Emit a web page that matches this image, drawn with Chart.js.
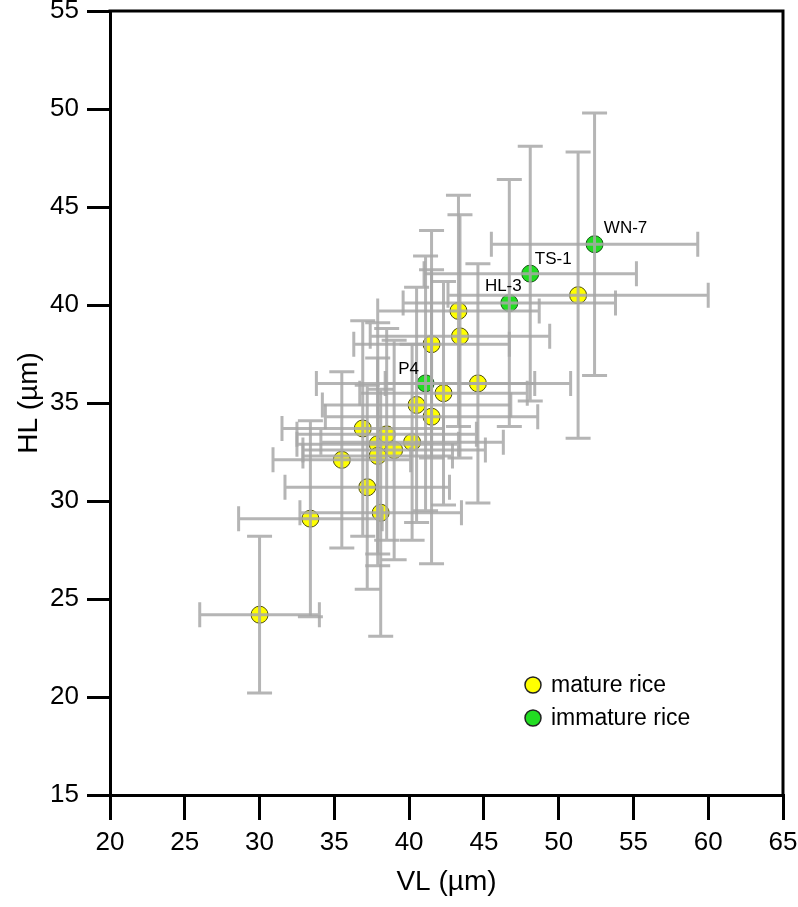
<!DOCTYPE html>
<html>
<head>
<meta charset="utf-8">
<script src="https://cdn.jsdelivr.net/npm/chart.js@4.4.1/dist/chart.umd.min.js"></script>
<style>
  html, body { margin: 0; padding: 0; background: #fff; }
</style>
</head>
<body>
<canvas id="chart" width="798" height="907"></canvas>
<script>
// mature rice: VL / HL means and their standard deviations (µm)
const matureVL    = [30.0, 33.4, 35.5, 36.9, 37.2, 38.1, 37.9, 37.9, 38.5, 39.0, 40.2, 40.5, 41.5, 41.5, 42.3, 43.3, 43.4, 44.6, 51.3];
const matureHL    = [24.2, 29.1, 32.1, 33.7, 30.7, 29.4, 32.9, 32.3, 33.4, 32.6, 33.0, 34.9, 34.3, 38.0, 35.5, 39.7, 38.4, 36.0, 40.5];
const matureVLErr = [4.0, 4.8, 4.6, 5.4, 5.5, 5.4, 5.4, 5.0, 6.0, 6.1, 6.1, 6.3, 7.1, 5.2, 5.6, 5.4, 6.0, 6.2, 8.7];
const matureHLErr = [4.0, 5.0, 4.5, 5.5, 5.2, 6.3, 6.2, 5.0, 5.4, 5.6, 5.0, 6.0, 7.5, 5.8, 5.7, 5.9, 6.2, 6.1, 7.3];

// immature rice, labelled samples
const immatureNames = ['P4', 'HL-3', 'TS-1', 'WN-7'];
const immatureVL    = [41.1, 46.7, 48.1, 52.4];
const immatureHL    = [36.0, 40.1, 41.6, 43.1];
const immatureVLErr = [7.3, 7.1, 7.1, 6.9];
const immatureHLErr = [6.5, 6.3, 6.5, 6.7];

const seriesLabels = ['mature rice', 'immature rice'];
const xRange = [20, 65];
const yRange = [15, 55];
const tickStep = 5;

const FONT = '"Liberation Sans", Arial, sans-serif';
const BAR_COLOR = 'rgba(168,168,168,0.85)';

const toPoints = (xs, ys) => xs.map((x, i) => ({ x, y: ys[i] }));

const errorSets = [
  { dx: matureVLErr,   dy: matureHLErr },
  { dx: immatureVLErr, dy: immatureHLErr },
];

// error bars (±SD on both axes), drawn over the markers like the original
const errorBars = {
  id: 'errorBars',
  afterDatasetsDraw(chart) {
    const { ctx, scales: { x, y } } = chart;
    const cap = 12.5;
    ctx.save();
    ctx.strokeStyle = BAR_COLOR;
    ctx.lineWidth = 3;
    ctx.lineCap = 'butt';
    chart.data.datasets.forEach((ds, di) => {
      const err = errorSets[di];
      ds.data.forEach((p, i) => {
        const x0 = x.getPixelForValue(p.x - err.dx[i]);
        const x1 = x.getPixelForValue(p.x + err.dx[i]);
        const y0 = y.getPixelForValue(p.y - err.dy[i]);
        const y1 = y.getPixelForValue(p.y + err.dy[i]);
        const px = x.getPixelForValue(p.x);
        const py = y.getPixelForValue(p.y);
        ctx.beginPath();
        ctx.moveTo(x0, py); ctx.lineTo(x1, py);
        ctx.moveTo(x0, py - cap); ctx.lineTo(x0, py + cap);
        ctx.moveTo(x1, py - cap); ctx.lineTo(x1, py + cap);
        ctx.moveTo(px, y0); ctx.lineTo(px, y1);
        ctx.moveTo(px - cap, y0); ctx.lineTo(px + cap, y0);
        ctx.moveTo(px - cap, y1); ctx.lineTo(px + cap, y1);
        ctx.stroke();
      });
    });
    ctx.restore();
  },
};

// sample names next to the immature points
const sampleLabels = {
  id: 'sampleLabels',
  afterDatasetsDraw(chart) {
    const { ctx } = chart;
    const meta = chart.getDatasetMeta(1);
    const offsets = [[-17, -14], [-6, -17], [23, -14], [31, -16]];
    ctx.save();
    ctx.font = `17px ${FONT}`;
    ctx.fillStyle = '#000';
    ctx.textAlign = 'center';
    ctx.textBaseline = 'middle';
    meta.data.forEach((pt, i) => {
      ctx.fillText(immatureNames[i], pt.x + offsets[i][0], pt.y + offsets[i][1]);
    });
    ctx.restore();
  },
};

// closed frame + legend inside the plot
const frameAndLegend = {
  id: 'frameAndLegend',
  afterDraw(chart) {
    const { ctx, chartArea: a } = chart;
    ctx.save();
    ctx.strokeStyle = '#000';
    ctx.lineWidth = 3;
    ctx.beginPath();
    ctx.moveTo(a.left - 1.5, a.top);
    ctx.lineTo(a.right, a.top);
    ctx.lineTo(a.right, a.bottom + 1.5);
    ctx.stroke();

    const colors = chart.data.datasets.map((d) => d.backgroundColor);
    const lx = a.right - 250;
    const ly = a.bottom - 110;
    seriesLabels.forEach((label, i) => {
      const cy = ly + i * 33;
      ctx.beginPath();
      ctx.arc(lx, cy, 8, 0, Math.PI * 2);
      ctx.fillStyle = colors[i];
      ctx.fill();
      ctx.lineWidth = 1.5;
      ctx.strokeStyle = '#222';
      ctx.stroke();
      ctx.fillStyle = '#000';
      ctx.font = `23px ${FONT}`;
      ctx.textAlign = 'left';
      ctx.textBaseline = 'middle';
      ctx.fillText(label, lx + 18, cy + 1);
    });
    ctx.restore();
  },
};

const axisBase = (min, max, tickLength, padding) => ({
  type: 'linear',
  min, max,
  ticks: {
    stepSize: tickStep,
    color: '#000',
    font: { family: FONT, size: 26 },
    autoSkip: false,
    maxRotation: 0,
    padding,
  },
  grid: {
    display: true,
    drawOnChartArea: false,
    drawTicks: true,
    tickLength,
    lineWidth: 3,
    color: '#000',
  },
  border: { display: true, color: '#000', width: 3 },
});

new Chart(document.getElementById('chart'), {
  type: 'scatter',
  data: {
    datasets: [
      {
        label: seriesLabels[0],
        data: toPoints(matureVL, matureHL),
        backgroundColor: '#ffff00',
        borderColor: '#4a4a08',
        borderWidth: 1,
        pointRadius: 8.5,
      },
      {
        label: seriesLabels[1],
        data: toPoints(immatureVL, immatureHL),
        backgroundColor: '#22dd22',
        borderColor: '#145214',
        borderWidth: 1,
        pointRadius: 8.5,
      },
    ],
  },
  options: {
    responsive: false,
    animation: false,
    layout: { padding: { top: 11, right: 15, left: 0, bottom: 0 } },
    plugins: { legend: { display: false }, tooltip: { enabled: false } },
    scales: {
      x: {
        ...axisBase(xRange[0], xRange[1], 25, 7),
        position: 'bottom',
        afterFit: (s) => {
          s.height = 112;
          s.paddingLeft = 0;
          s.paddingRight = 0;
        },
        title: {
          display: true, text: 'VL (µm)', color: '#000',
          font: { family: FONT, size: 28 }, padding: { top: 0, bottom: 8 },
        },
      },
      y: {
        ...axisBase(yRange[0], yRange[1], 23, 8),
        position: 'left',
        afterFit: (s) => {
          s.width = 110;
          s.paddingTop = 0;
          s.paddingBottom = 0;
        },
        title: {
          display: true, text: 'HL (µm)', color: '#000',
          font: { family: FONT, size: 28 }, padding: { top: 12, bottom: 0 },
        },
      },
    },
  },
  plugins: [errorBars, sampleLabels, frameAndLegend],
});
</script>
</body>
</html>
